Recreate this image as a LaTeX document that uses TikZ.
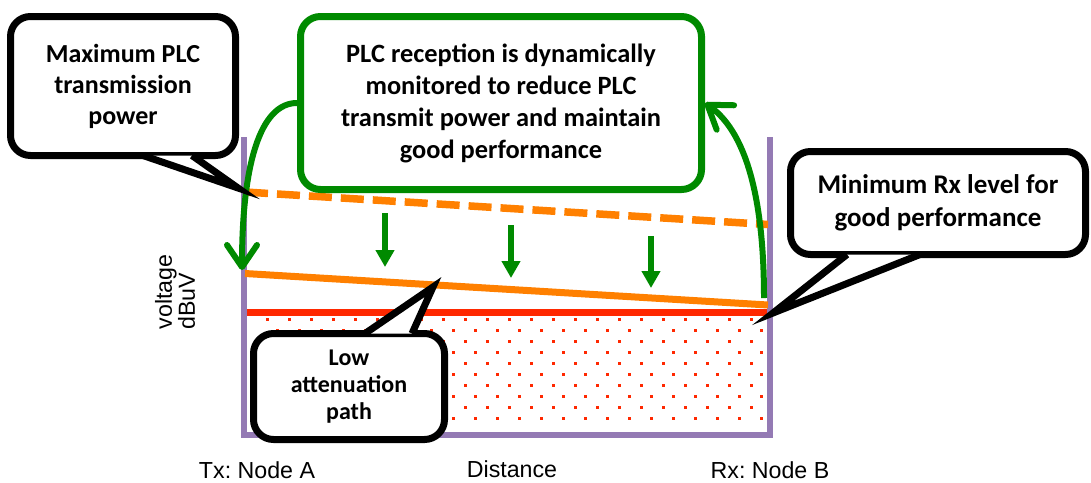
\documentclass[tikz,border=0pt]{standalone}
\usepackage{fontspec}
\setmainfont{Carlito}
\newfontfamily\axisfont{Liberation Sans}
\usetikzlibrary{arrows.meta}
\usetikzlibrary{calc}
\definecolor{axispurple}{RGB}{148,122,180}
\definecolor{plcorange}{RGB}{255,128,0}
\definecolor{plcred}{RGB}{255,40,0}
\definecolor{plcgreen}{RGB}{0,138,0}
\frenchspacing

\begin{document}
\begin{tikzpicture}[x=0.5pt,y=-0.5pt,
    callbox/.style={draw,line width=3.5pt,fill=white,rounded corners=10pt,align=center,
      inner sep=0pt,font=\bfseries\fontsize{13}{15.5}\selectfont},
    tailline/.style={line width=3.5pt,line join=miter},
    axisline/.style={line width=3pt,draw=axispurple},
    bendarr/.style={line width=3pt,draw=plcgreen,-{Straight Barb[length=11pt,width=15pt,round]}},
    downarr/.style={line width=3.3pt,draw=plcgreen,-{Triangle[length=8.5pt,width=9pt]}},
    axislabel/.style={font=\axisfont\fontsize{11.6}{11.5}\selectfont,inner sep=0pt}]
  \useasboundingbox (0,0) rectangle (1091,482);

  \begin{scope}
    \clip (247,315) rectangle (767,432);
    \foreach \r in {0,...,9} {
      \pgfmathsetmacro\xo{mod(\r,2)*10}
      \foreach \c in {0,...,23}
        \fill[plcred] (265.5+\xo+22*\c,317.5+11*\r) rectangle +(3,3);
    }
  \end{scope}
  \draw[line width=3.5pt,plcred] (246,312) -- (768,312);

  \coordinate (ytop)   at (244,137);
  \coordinate (origin) at (244,435);
  \coordinate (xend)   at (770,435);
  \coordinate (rtop)   at (770,137);
  \draw[axisline] (ytop) -- (origin) -- (xend) -- (rtop);

  \coordinate (hiA) at (245,192);
  \coordinate (hiB) at (768,224.5);
  \coordinate (loA) at (245,273.5);
  \coordinate (loB) at (768,305);
  \draw[line width=3.75pt,plcorange,dash pattern=on 11.5pt off 4.5pt] (hiA) -- (hiB);
  \draw[line width=3.5pt,plcorange] (loA) -- (loB);

  \foreach \i/\x/\ya/\yb in {1/385/213/267,2/511/225/278,3/651/236/288} {
    \coordinate (d\i) at (\x,\ya);
    \coordinate (e\i) at (\x,\yb);
    \draw[downarr] (d\i) -- (e\i);
  }

  \node[callbox,draw=plcgreen,minimum width=200.5pt,minimum height=86.5pt,
        font=\bfseries\fontsize{13.2}{16}\selectfont] (greenbox) at (501,103)
    {PLC reception is dynamically\\monitored to reduce PLC\\transmit power and maintain\\good performance};
  \coordinate (lefttip)  at (242,270);
  \coordinate (rightbot) at (764,298);
  \draw[bendarr] (greenbox.west) .. controls (260,103) and (242,165) .. (lefttip);
  \draw[bendarr] (rightbot) .. controls (764,210) and (750,135) .. (greenbox.east);

  \node[callbox,minimum width=112.5pt,minimum height=69.5pt] (maxbox) at (123,86)
    {Maximum PLC\\transmission\\power};
  \coordinate (maxtip) at (238,188);
  \fill[white] ($(maxbox.south)+(20,-3.5)$) -- (maxtip) -- ($(maxbox.south)+(69,-3.5)$) -- cycle;
  \draw[tailline] ($(maxbox.south)+(20,-3.5)$) -- (maxtip) -- ($(maxbox.south)+(69,-3.5)$);

  \node[callbox,minimum width=147.5pt,minimum height=51.5pt,
        font=\bfseries\fontsize{13.5}{16.5}\selectfont] (minbox) at (938,203)
    {Minimum Rx level for\\good performance};
  \coordinate (mintip) at (773,313);
  \fill[white] ($(minbox.south)+(-91,-3.5)$) -- (mintip) -- ($(minbox.south)+(-18,-3.5)$) -- cycle;
  \draw[tailline] ($(minbox.south)+(-91,-3.5)$) -- (mintip) -- ($(minbox.south)+(-18,-3.5)$);

  \node[callbox,minimum width=95.5pt,minimum height=53pt,
        font=\bfseries\fontsize{12}{13.5}\selectfont] (lowbox) at (349,386.5)
    {Low\\attenuation\\path};
  \coordinate (lowtip) at (433,287);
  \fill[white] ($(lowbox.north)+(16,3.5)$) -- (lowtip) -- ($(lowbox.north)+(63,3.5)$) -- cycle;
  \draw[tailline] ($(lowbox.north)+(16,3.5)$) -- (lowtip) -- ($(lowbox.north)+(63,3.5)$);

  \node[axislabel] (txlabel) at (257,470) {Tx: Node A};
  \node[axislabel] (distlabel) at (512,469) {Distance};
  \node[axislabel] (rxlabel) at (770,470) {Rx: Node B};
  \node[axislabel,rotate=90,align=left] (ylabel) at (175,292) {voltage\\dBuV};
\end{tikzpicture}
\end{document}
